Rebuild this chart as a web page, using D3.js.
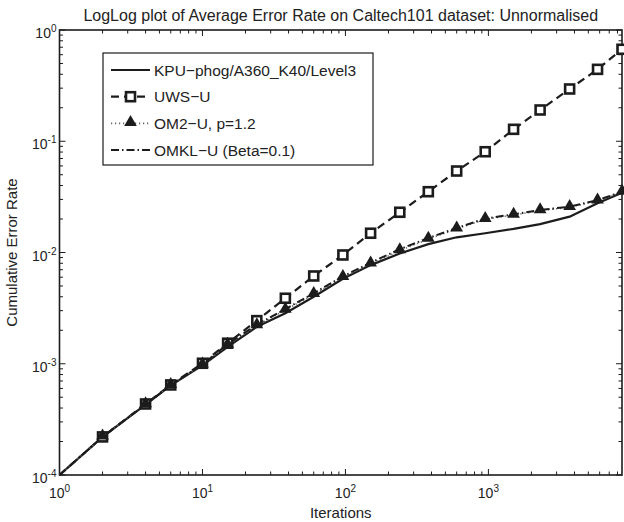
<!DOCTYPE html>
<html>
<head>
<meta charset="utf-8">
<script src="https://cdn.jsdelivr.net/npm/d3@7"></script>
<style>
  body { margin: 0; background: #fff; }
  text { font-family: "Liberation Sans", Arial, sans-serif; fill: #222; }
</style>
</head>
<body>
<div id="chart-area"></div>
<script>
// DATA
var iterations = [1, 2, 4, 6, 10, 15, 24, 38, 60, 96, 150, 240, 380, 600, 950, 1500, 2300, 3700, 5800, 8600];
var kpuErr  = [1e-4, 2.2e-4, 4.3e-4, 6.4e-4, 9.7e-4, 1.42e-3, 2.15e-3, 2.84e-3, 4.0e-3, 5.8e-3, 7.7e-3, 9.8e-3, 0.0119, 0.0137, 0.0149, 0.0163, 0.018, 0.021, 0.0277, 0.0345];
var uwsErr  = [1e-4, 2.2e-4, 4.35e-4, 6.45e-4, 1.01e-3, 1.53e-3, 2.44e-3, 3.88e-3, 6.15e-3, 9.5e-3, 0.0149, 0.023, 0.0352, 0.054, 0.0805, 0.128, 0.191, 0.295, 0.443, 0.671];
var om2Err  = [1e-4, 2.2e-4, 4.3e-4, 6.4e-4, 9.8e-4, 1.47e-3, 2.2e-3, 3.04e-3, 4.2e-3, 5.98e-3, 7.9e-3, 0.0104, 0.0132, 0.0163, 0.0199, 0.0217, 0.0238, 0.0255, 0.0292, 0.035];
var omklErr = [1e-4, 2.2e-4, 4.3e-4, 6.4e-4, 9.9e-4, 1.5e-3, 2.25e-3, 3.1e-3, 4.3e-3, 6.1e-3, 8.1e-3, 0.0107, 0.0135, 0.0166, 0.0202, 0.022, 0.0241, 0.0258, 0.0295, 0.0352];
var seriesNames = ["KPU\u2212phog/A360_K40/Level3", "UWS\u2212U", "OM2\u2212U, p=1.2", "OMKL\u2212U (Beta=0.1)"];
var xTickExps = [0, 1, 2, 3];
var yTickExps = [-4, -3, -2, -1, 0];

var width = 624;
var height = 522;
var margin = { top: 30, right: 2, bottom: 47, left: 59.5 };
var w = width - margin.left - margin.right;
var h = height - margin.top - margin.bottom;
var ink = "#1c1c1c";

var svg = d3.select("#chart-area")
    .append("svg")
    .attr("width", width)
    .attr("height", height);

var g = svg.append("g")
    .attr("transform", "translate(" + margin.left + "," + margin.top + ")");

// SCALES
var x = d3.scaleLog().domain([1, 8600]).range([0, w]);
var y = d3.scaleLog().domain([1e-4, 1]).range([h, 0]);

// minor + major ticks, matlab style (inside the box, all four sides)
var xTicks = [];
for (var e = 0; e <= 3; e++) {
    for (var m = 1; m <= 9; m++) {
        var v = m * Math.pow(10, e);
        if (v <= 8600) xTicks.push({ v: v, major: m === 1 });
    }
}
var yTicks = [];
for (var e2 = -4; e2 <= 0; e2++) {
    for (var m2 = 1; m2 <= 9; m2++) {
        var v2 = m2 * Math.pow(10, e2);
        if (v2 <= 1) yTicks.push({ v: v2, major: m2 === 1 });
    }
}

var tickG = g.append("g").attr("stroke", ink).attr("stroke-width", 1);
xTicks.forEach(function (t) {
    var len = t.major ? 6 : 3.5;
    tickG.append("line").attr("x1", x(t.v)).attr("x2", x(t.v)).attr("y1", h).attr("y2", h - len);
    tickG.append("line").attr("x1", x(t.v)).attr("x2", x(t.v)).attr("y1", 0).attr("y2", len);
});
yTicks.forEach(function (t) {
    var len = t.major ? 6 : 3.5;
    tickG.append("line").attr("x1", 0).attr("x2", len).attr("y1", y(t.v)).attr("y2", y(t.v));
    tickG.append("line").attr("x1", w).attr("x2", w - len).attr("y1", y(t.v)).attr("y2", y(t.v));
});

// box
g.append("rect")
    .attr("width", w)
    .attr("height", h)
    .attr("fill", "none")
    .attr("stroke", ink)
    .attr("stroke-width", 1.6);

// tick labels
xTickExps.forEach(function (p) {
    var t = g.append("text")
        .attr("x", x(Math.pow(10, p)))
        .attr("y", h + 23)
        .attr("text-anchor", "middle")
        .attr("font-size", "14px");
    t.append("tspan").text("10");
    t.append("tspan").attr("dy", -6).attr("font-size", "10px").text(p);
});
yTickExps.forEach(function (p) {
    var t = g.append("text")
        .attr("x", -3)
        .attr("y", y(Math.pow(10, p)) + 8)
        .attr("text-anchor", "end")
        .attr("font-size", "14px");
    t.append("tspan").text("10");
    t.append("tspan").attr("dy", -6).attr("font-size", "10px").text(p);
});

// axis labels + title
g.append("text")
    .attr("x", w / 2)
    .attr("y", h + 43)
    .attr("text-anchor", "middle")
    .attr("font-size", "15px")
    .text("Iterations");

g.append("text")
    .attr("x", -h / 2)
    .attr("y", -43)
    .attr("transform", "rotate(-90)")
    .attr("text-anchor", "middle")
    .attr("font-size", "15px")
    .text("Cumulative Error Rate");

g.append("text")
    .attr("x", w / 2)
    .attr("y", -9)
    .attr("text-anchor", "middle")
    .attr("font-size", "16px")
    .text("LogLog plot of Average Error Rate on Caltech101 dataset: Unnormalised");

// LINES
var series = [
    { name: seriesNames[0], vals: kpuErr,  dash: null,          color: ink,    sw: 2.2, marker: null },
    { name: seriesNames[1], vals: uwsErr,  dash: "8,5",         color: ink,    sw: 2.2, marker: "square" },
    { name: seriesNames[2], vals: om2Err,  dash: "1.2,2.8",     color: "#666", sw: 1.6, marker: "triangle" },
    { name: seriesNames[3], vals: omklErr, dash: "8,3,1.5,3",   color: ink,    sw: 2.0, marker: null }
];

var line = d3.line()
    .x((d) => x(d[0]))
    .y((d) => y(d[1]));

series.forEach(function (s) {
    var pts = iterations.map((it, i) => [it, s.vals[i]]);
    g.append("path")
        .datum(pts)
        .attr("d", line)
        .attr("fill", "none")
        .attr("stroke", s.color)
        .attr("stroke-width", s.sw)
        .attr("stroke-dasharray", s.dash);
});

function drawMarker(sel, type, cx, cy) {
    if (type === "square") {
        sel.append("rect")
            .attr("x", cx - 4.5).attr("y", cy - 4.5)
            .attr("width", 9).attr("height", 9)
            .attr("fill", "#fff")
            .attr("stroke", ink)
            .attr("stroke-width", 2.6);
    } else if (type === "triangle") {
        sel.append("path")
            .attr("d", d3.symbol().type(d3.symbolTriangle).size(70)())
            .attr("transform", "translate(" + cx + "," + (cy - 1) + ")")
            .attr("fill", ink);
    }
}

// markers drawn after all lines (skip the starting point)
series.forEach(function (s) {
    if (!s.marker) return;
    var mg = g.append("g");
    iterations.forEach(function (it, i) {
        if (i === 0) return;
        drawMarker(mg, s.marker, x(it), y(s.vals[i]));
    });
});

// LEGEND
var lg = svg.append("g").attr("transform", "translate(103,53)");
lg.append("rect")
    .attr("width", 270)
    .attr("height", 112)
    .attr("fill", "#fff")
    .attr("stroke", ink)
    .attr("stroke-width", 1.2);

series.forEach(function (s, i) {
    var ly = 17 + i * 26.7;
    lg.append("line")
        .attr("x1", 8).attr("x2", 47)
        .attr("y1", ly).attr("y2", ly)
        .attr("stroke", s.color)
        .attr("stroke-width", s.sw)
        .attr("stroke-dasharray", s.dash);
    if (s.marker) drawMarker(lg, s.marker, 27.5, ly);
    lg.append("text")
        .attr("x", 51)
        .attr("y", ly + 5.5)
        .attr("font-size", "15.5px")
        .text(s.name);
});
</script>
</body>
</html>
